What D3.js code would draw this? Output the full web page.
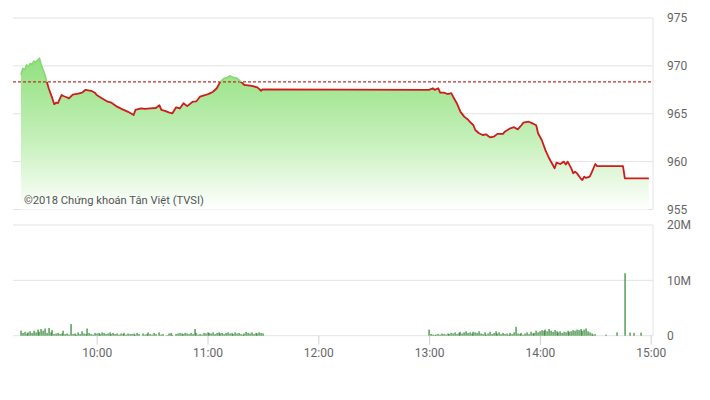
<!DOCTYPE html>
<html>
<head>
<meta charset="utf-8">
<script src="https://cdn.jsdelivr.net/npm/d3@7"></script>
<style>
  html, body { margin: 0; padding: 0; background: #fff; }
  svg { display: block; font-family: Roboto, "Noto Sans", sans-serif; }
</style>
</head>
<body>
<svg id="chart" width="710" height="400"></svg>
<script>
// ---------- DATA ----------
const priceTimes = [
  "9:19","9:20","9:21","9:22","9:23","9:24","9:25","9:26","9:27","9:28","9:29","9:30","9:31","9:32","9:33","9:34",
  "9:36","9:37","9:38","9:39","9:41","9:42","9:44","9:45","9:47","9:50","9:52","9:54","9:57","9:59",
  "10:00","10:03","10:06","10:08","10:11","10:14","10:17","10:20","10:21","10:24","10:26","10:29","10:32","10:34",
  "10:35","10:37","10:39","10:41","10:43","10:45","10:47","10:49","10:52","10:54","10:56","10:59",
  "11:01","11:03","11:05","11:07","11:09","11:11","11:12","11:14","11:16","11:18","11:20","11:21","11:24","11:27","11:29","11:30",
  "13:00","13:02","13:03","13:05","13:06","13:08","13:10","13:12","13:13","13:15","13:17","13:19","13:21","13:22","13:24",
  "13:25","13:27","13:29","13:31","13:32","13:33","13:35","13:37","13:40","13:41","13:44","13:46","13:48","13:50","13:51",
  "13:54","13:56","13:58","13:59","14:01","14:03","14:05","14:07","14:08","14:09","14:11","14:13","14:14","14:15","14:17",
  "14:18","14:19","14:20","14:22","14:23","14:24","14:25","14:27","14:28","14:30","14:31","14:45","14:46","14:59"
];
const priceValues = [
  969.05,969.75,969.6,970.1,969.95,970.25,970.15,970.5,970.4,970.6,970.8,970.1,969.6,969.05,968.35,967.66,
  966.6,966.0,966.15,966.1,966.96,966.85,966.7,966.6,967.0,967.1,967.2,967.5,967.4,967.2,
  966.96,966.6,966.26,966.15,965.74,965.46,965.2,964.87,965.4,965.57,965.5,965.57,965.6,965.88,
  965.4,965.3,965.15,965.05,965.67,965.55,966.1,965.8,966.26,966.3,966.8,966.96,
  967.1,967.3,967.66,968.35,968.7,968.8,968.97,968.8,968.7,968.35,968.0,968.0,967.9,967.76,967.4,967.55,
  967.5,967.66,967.5,967.66,967.2,967.2,967.06,967.15,966.78,966.1,965.2,964.7,964.4,964.17,963.8,
  963.3,962.96,962.78,962.85,962.68,962.54,962.6,962.9,962.9,963.13,963.48,963.6,963.37,963.8,964.07,
  964.17,963.99,963.8,962.96,962.26,961.2,960.35,959.65,959.3,959.9,959.75,960.0,959.7,960.0,959.3,
  958.78,958.95,958.8,958.26,958.08,958.43,958.3,958.43,958.85,959.75,959.54,959.54,958.26,958.26
];
const referencePrice = 968.32;

// volume (millions of shares), one bar per minute
const volMorningStart = "9:19";
const volMorning = [
  0.9,0.5,0.7,0.4,0.6,0.8,0.5,0.9,0.6,1.1,
  0.7,1.2,0.9,1.3,0.5,1.4,0.6,1.0,0.3,0.4,
  0.5,0.3,0.4,0.9,0.3,0.4,0.2,2.1,0.3,0.4,
  0.2,0.6,0.3,0.8,0.4,0.3,1.3,0.5,0.3,0.2,
  0.5,0.4,0.5,0.3,0.6,0.5,0.3,0.4,0.6,0.3,
  0.5,0.3,0.4,0.2,0.4,0.3,0.5,0.2,0.4,0.3,
  0.3,0.4,0.2,0.5,0.3,0,0.4,0.2,0.3,0.6,
  0.3,0.2,0.5,0.3,0,0.6,0.2,0.3,0,0.1,
  0.4,0.5,0.2,0,0.3,0.4,0.5,0.4,0.3,0.5,
  0.4,0.3,0.5,0.3,1.2,0.5,0.2,0.3,0.2,0.5,
  0.4,0.6,0.5,0.4,0.6,0.3,0.5,0.6,0.4,0.5,
  0.3,0.5,0.6,0.4,0.5,0.3,0.6,0.4,0.5,0.3,
  0.2,0.4,0.7,0.5,0.4,0.6,0.3,0.5,0.4,0.6,
  0.5,0.4
];
const volAfternoonStart = "13:00";
const volAfternoon = [
  1.1,0.3,0.2,0.1,0.2,0.3,0.2,0.4,0.3,0.2,
  0.4,0.3,0.5,0.4,0.6,0.3,0.5,0.7,0.4,0.6,
  0.8,0.5,0.6,0.4,0.7,0.6,0.5,0.8,0.4,0.3,
  0.6,0.2,0.4,0.7,0.3,0.5,0.8,0.4,0.6,0.3,
  0.5,0.3,0.4,0.2,0.5,0.3,0.6,1.6,0.4,0.3,
  0.5,0.2,0.4,0.6,0.3,0.7,0.4,0.5,0.9,0.6,
  0.8,1.0,0.9,1.1,0.8,1.2,0.9,0.7,1.0,0.8,
  0.6,0.8,0.5,0.7,0.6,0.9,0.7,0.8,1.0,0.9,
  1.1,1.0,1.2,0.9,1.1,1.3,0.8,0.6,0.4,0.2,
  0.3
];
const volLateTimes = ["14:36","14:42","14:46","14:49","14:51","14:55"];
const volLate = [0.2,0.6,11.3,0.55,0.5,0.55];

const priceTicks = [955,960,965,970,975];
const volTicks = [0,10,20];
const volTickLabels = ["0","10M","20M"];
const timeTicks = ["10:00","11:00","12:00","13:00","14:00","15:00"];
const timeDomain = ["9:15","15:00"];

// ---------- BUILD ----------
const parse = d3.timeParse("%H:%M");
const svg = d3.select("#chart");

const plotLeft = 13, plotRight = 653;
const x = d3.scaleTime().domain(timeDomain.map(parse)).range([13.6, 650.7]);
const yP = d3.scaleLinear().domain([955, 975]).range([209.5, 18]);
const yV = d3.scaleLinear().domain([0, 20]).range([335.7, 225]);

const gridColor = "#e3e3e3";
const labelColor = "#666";

// price grid
svg.append("g").selectAll("line").data(priceTicks).join("line")
  .attr("x1", plotLeft).attr("x2", plotRight)
  .attr("y1", d => yP(d)).attr("y2", d => yP(d))
  .attr("stroke", gridColor).attr("stroke-width", 1);
svg.append("line").attr("x1", plotRight).attr("x2", plotRight)
  .attr("y1", yP(975)).attr("y2", yP(955)).attr("stroke", gridColor);

// volume grid
svg.append("g").selectAll("line").data(volTicks).join("line")
  .attr("x1", plotLeft).attr("x2", plotRight)
  .attr("y1", d => yV(d)).attr("y2", d => yV(d))
  .attr("stroke", gridColor).attr("stroke-width", 1);
svg.append("line").attr("x1", plotRight).attr("x2", plotRight)
  .attr("y1", yV(20)).attr("y2", yV(0)).attr("stroke", gridColor);

// price series
const pts = priceTimes.map((t, i) => ({ t: parse(t), v: priceValues[i] }));

const defs = svg.append("defs");
const grad = defs.append("linearGradient").attr("id", "areaGrad")
  .attr("gradientUnits", "userSpaceOnUse")
  .attr("x1", 0).attr("x2", 0).attr("y1", yP(971)).attr("y2", yP(955));
grad.append("stop").attr("offset", "0%").attr("stop-color", "#8fe07d");
grad.append("stop").attr("offset", "55%").attr("stop-color", "#c6f0bb");
grad.append("stop").attr("offset", "100%").attr("stop-color", "#ffffff");

const refY = yP(referencePrice);
defs.append("clipPath").attr("id", "aboveRef").append("rect")
  .attr("x", 0).attr("y", 0).attr("width", 710).attr("height", refY);
defs.append("clipPath").attr("id", "belowRef").append("rect")
  .attr("x", 0).attr("y", refY).attr("width", 710).attr("height", 400 - refY);

const area = d3.area().x(d => x(d.t)).y0(yP(955)).y1(d => yP(d.v));
const line = d3.line().x(d => x(d.t)).y(d => yP(d.v));

svg.append("path").datum(pts).attr("d", area).attr("fill", "url(#areaGrad)");

// copyright text
svg.append("text").attr("x", 24).attr("y", 204)
  .attr("font-size", 11.2).attr("fill", "#555")
  .text("©2018 Chứng khoán Tân Việt (TVSI)");

// reference dashed line
svg.append("line").attr("x1", plotLeft).attr("x2", plotRight)
  .attr("y1", refY).attr("y2", refY)
  .attr("stroke", "#c0302a").attr("stroke-width", 1.3).attr("stroke-dasharray", "3,2");

svg.append("path").datum(pts).attr("d", line).attr("fill", "none")
  .attr("stroke", "#cc1d1b").attr("stroke-width", 1.8).attr("stroke-linejoin", "round")
  .attr("clip-path", "url(#belowRef)");
svg.append("path").datum(pts).attr("d", line).attr("fill", "none")
  .attr("stroke", "#86d874").attr("stroke-width", 1.6).attr("stroke-linejoin", "round")
  .attr("clip-path", "url(#aboveRef)");

// volume bars
const vols = [];
const ms = parse(volMorningStart);
volMorning.forEach((v, i) => vols.push({ t: d3.timeMinute.offset(ms, i), v }));
const as = parse(volAfternoonStart);
volAfternoon.forEach((v, i) => vols.push({ t: d3.timeMinute.offset(as, i), v }));
volLateTimes.forEach((t, i) => vols.push({ t: parse(t), v: volLate[i] }));

svg.append("g").selectAll("rect").data(vols.filter(d => d.v > 0)).join("rect")
  .attr("x", d => Math.round(x(d.t)) - 0.5)
  .attr("width", 1.1)
  .attr("y", d => yV(d.v))
  .attr("height", d => yV(0) - yV(d.v))
  .attr("fill", "#177a1b");

// right axes
const axP = svg.append("g").attr("transform", `translate(${plotRight + 10},0)`)
  .call(d3.axisRight(yP).tickValues(priceTicks).tickSize(0).tickPadding(4).tickFormat(d3.format("d")));
const axV = svg.append("g").attr("transform", `translate(${plotRight + 10},0)`)
  .call(d3.axisRight(yV).tickValues(volTicks).tickSize(0).tickPadding(4)
    .tickFormat((d, i) => volTickLabels[i]));

// time axis
const axT = svg.append("g").attr("transform", `translate(0,${yV(0)})`)
  .call(d3.axisBottom(x).tickValues(timeTicks.map(parse)).tickSize(9).tickPadding(4)
    .tickFormat(d3.timeFormat("%H:%M")));

[axP, axV, axT].forEach(g => {
  g.select(".domain").remove();
  g.selectAll("text").attr("fill", labelColor).attr("font-size", 12)
    .attr("font-family", "Roboto, 'Noto Sans', sans-serif");
  g.selectAll(".tick line").attr("stroke", "#d0d0d0");
});
</script>
</body>
</html>
